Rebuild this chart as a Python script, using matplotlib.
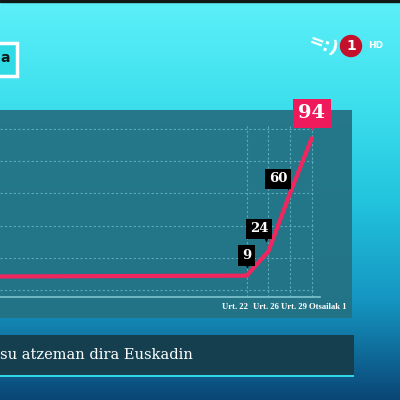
import numpy as np
import matplotlib
matplotlib.use("Agg")
import matplotlib.pyplot as plt
from matplotlib.colors import LinearSegmentedColormap
from matplotlib.patches import Rectangle, Circle
import matplotlib.transforms as mtransforms

# ---- data ----
positions = [-11.4, 0, 1, 2, 3]
values = [8.5, 9, 24, 60, 94]
tick_labels = ["Urt. 22", "Urt. 26", "Urt. 29", "Otsailak 1"]
label_values = [9, 24, 60, 94]
grid_values = [0, 20, 40, 60, 80, 100]
banner_text = "su atzeman dira Euskadin"

W = H = 400
fig = plt.figure(figsize=(4, 4), dpi=100)

# background gradient
bg = fig.add_axes([0, 0, 1, 1])
bg.set_xlim(0, W); bg.set_ylim(H, 0); bg.axis("off")
cmap = LinearSegmentedColormap.from_list("bg", [
    (0.0, "#5cf0f8"), (0.25, "#3ee0ee"), (0.5, "#22c4de"),
    (0.75, "#1596c2"), (1.0, "#0a4676")])
grad = np.linspace(0, 1, 256).reshape(-1, 1)
bg.imshow(grad, cmap=cmap, aspect="auto", extent=[0, W, H, 0])
bg.add_patch(Rectangle((0, 0), W, 2, color="#101818"))

# top-left box
bg.add_patch(Rectangle((-5, 43), 22, 33, fc="#30dbe6", ec="white", lw=2.5))
bg.text(0, 58, "a", color="#0a1a1a", fontsize=10, fontweight="bold",
        ha="left", va="center", family="DejaVu Sans")

# logo
bg.text(323, 46, "=:)", color="white", fontsize=13, fontweight="bold",
        ha="center", va="center", rotation=-20, family="DejaVu Sans")
bg.add_patch(Circle((351, 46), 10.5, color="#c4102a"))
bg.text(351, 46.5, "1", color="white", fontsize=10, fontweight="bold",
        ha="center", va="center", family="DejaVu Sans")
bg.text(376, 46, "HD", color="white", fontsize=6.5, fontweight="bold",
        ha="center", va="center", family="DejaVu Sans")

# bottom banner
bg.add_patch(Rectangle((0, 335), 354, 40, fc="#153f4e", ec="none"))
bg.add_patch(Rectangle((0, 375), 354, 2, fc="#2fd6e6", ec="none"))
bg.text(0, 355, banner_text, color="white", fontsize=10.5, ha="left",
        va="center", family="DejaVu Serif")

# chart panel
left, right, top, bottom = 0, 352, 110, 318
ax = fig.add_axes([left / W, 1 - bottom / H, (right - left) / W, (bottom - top) / H])
ax.set_facecolor("#247284")
ax.patch.set_alpha(0.95)
ax.set_xlim(-11.38, 4.86)
ax.set_ylim(-17.2, 111.5)
for s in ax.spines.values():
    s.set_visible(False)
ax.set_xticks([]); ax.set_yticks([])

for g in grid_values:
    ax.plot([-11.38, 3.05], [g, g], color="#6ab8c4", lw=0.8,
            ls=(0, (2, 2)), alpha=0.8, zorder=1)
for i in range(len(tick_labels)):
    ax.plot([i, i], [-4, 103], color="#6ab8c4", lw=0.8,
            ls=(0, (2, 2)), alpha=0.8, zorder=1)
ax.plot([-11.38, 3.4], [-4.2, -4.2], color="#7cc4cf", lw=1.2, zorder=1)

ax.plot(positions, values, color="#f2265f", lw=3, solid_joinstyle="round",
        solid_capstyle="round", zorder=3)

# tick labels
has = ["right", "center", "center", "left"]
offs = [1.5, -2.5, 4, -2.5]
for i, (lab, ha, o) in enumerate(zip(tick_labels, has, offs)):
    ax.annotate(lab, (i, -4.2), xytext=(o * 0.72, -7), textcoords="offset points",
                ha=ha, va="center", color="white", fontsize=6.2,
                fontweight="bold", family="Liberation Serif")

# value labels
specs = {
    9:  dict(box=(0, 20), tri=(0, 11), fc="black", fs=9.5),
    24: dict(box=(-9, 22.5), tri=(-2.5, 12), fc="black", fs=9.5),
    60: dict(box=(-12, 14.5), tri=(-2, 6), fc="black", fs=9.5),
    94: dict(box=(0, 25), tri=(0, 12), fc="#ee1a5c", fs=14),
}
for v in label_values:
    i = values.index(v)
    xp, yp = positions[i], values[i]
    sp = specs[v]
    bx, by = sp["box"]
    tx, ty = sp["tri"]
    ax.annotate(str(v), (xp, yp), xytext=(bx * 0.72, by * 0.72),
                textcoords="offset points", ha="center", va="center",
                color="white", fontsize=sp["fs"], fontweight="bold",
                family="DejaVu Serif", zorder=6,
                bbox=dict(boxstyle="square,pad=0.28", fc=sp["fc"], ec="none"))
    tr = mtransforms.offset_copy(ax.transData, fig=fig, x=tx * 0.72,
                                 y=ty * 0.72, units="points")
    ax.plot([xp], [yp], marker="v", ms=5 if v != 94 else 6, color=sp["fc"],
            transform=tr, zorder=5, mec="none")

fig.savefig("out.png", dpi=100)
